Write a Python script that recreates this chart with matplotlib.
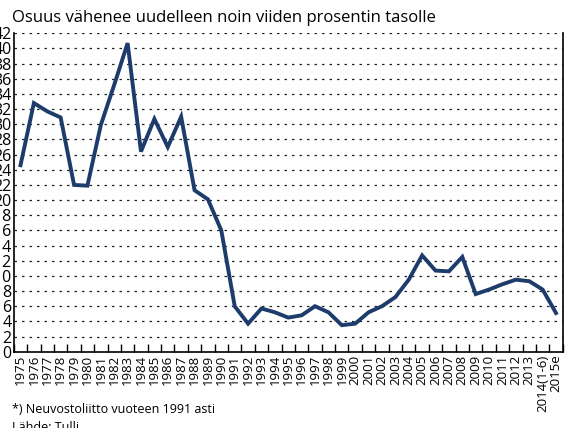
import numpy as np
import matplotlib.pyplot as plt

# Share (%) by year
years = [str(y) for y in range(1975, 2014)] + ["2014(1-6)", "2015e"]
share = [24.6, 32.8, 31.7, 30.9, 22.0, 21.9, 29.9, 35.2, 40.7, 26.4,
         30.7, 27.0, 31.0, 21.3, 20.1, 16.0, 6.0, 3.7, 5.7, 5.2,
         4.5, 4.8, 6.0, 5.2, 3.5, 3.7, 5.2, 6.0, 7.2, 9.5,
         12.7, 10.7, 10.6, 12.5, 7.6, 8.2, 8.9, 9.5, 9.3, 8.2, 5.1]
y_ticks = list(range(0, 43, 2))

plt.rcParams['font.family'] = ['Open Sans', 'DejaVu Sans']

fig = plt.figure(figsize=(5.67, 4.28), dpi=100)
ax = fig.add_axes([13.8 / 567, 1 - 351.7 / 428, (562.7 - 13.8) / 567, (351.7 - 33.3) / 428])

x = np.arange(len(years))
ax.plot(x, share, color="#1d3c6b", linewidth=2.8, solid_joinstyle="miter", zorder=3)

ax.set_xlim(-0.5, len(years) - 0.5)
ax.set_ylim(0, 42)

ax.set_yticks(y_ticks)
ax.set_yticklabels([str(v) for v in y_ticks], fontsize=11.5)
ax.tick_params(axis="y", length=0, pad=1.5)
ax.yaxis.grid(True, color="#222222", linestyle=(0, (2, 4)), linewidth=0.9)

# category ticks at boundaries, labels at centres
ax.set_xticks(np.arange(len(years) + 1) - 0.5)
ax.set_xticklabels([])
ax.set_xticks(x, minor=True)
ax.set_xticklabels(years, minor=True, rotation=90, fontsize=9.5)
ax.tick_params(axis="x", which="major", direction="in", length=6, width=1, color="black")
ax.tick_params(axis="x", which="minor", length=0, pad=2)

ax.spines["top"].set_visible(False)
for s in ["left", "bottom", "right"]:
    ax.spines[s].set_linewidth(1.2)
ax.set_axisbelow(True)

fig.text(12 / 567, 1 - 22 / 428, "Osuus vähenee uudelleen noin viiden prosentin tasolle",
         fontsize=12, ha="left", va="baseline")
fig.text(12 / 567, 1 - 413 / 428, "*) Neuvostoliitto vuoteen 1991 asti",
         fontsize=9, ha="left", va="baseline")
fig.text(12 / 567, 1 - 428 / 428 + 0.002, "Lähde: Tulli",
         fontsize=9, ha="left", va="center")

fig.savefig("out.png", dpi=100)
